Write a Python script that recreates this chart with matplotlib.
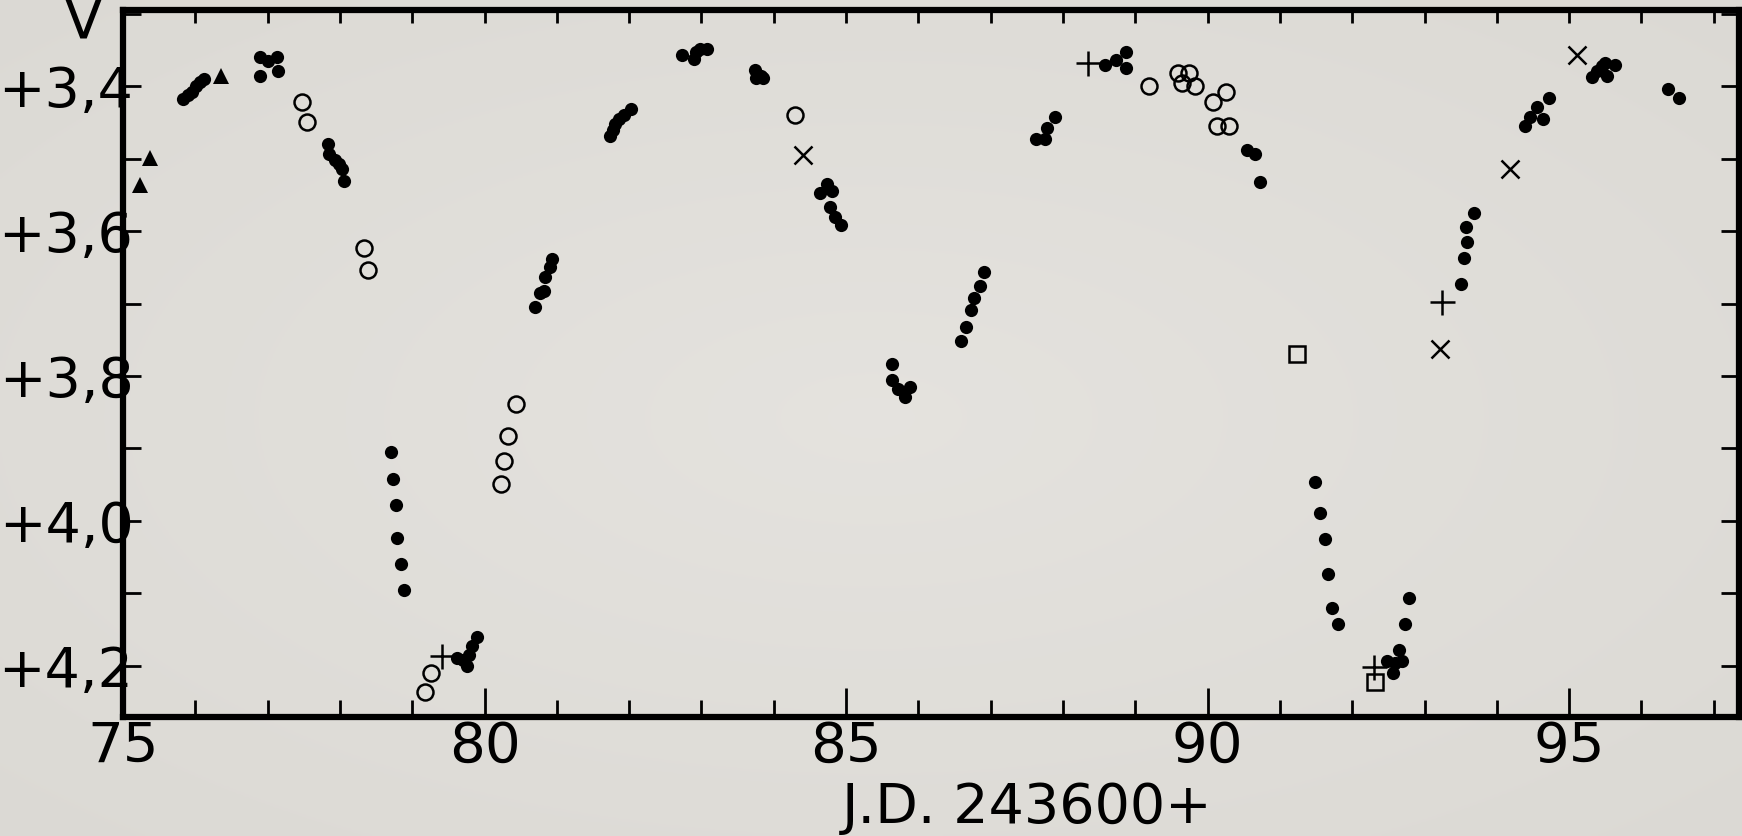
import numpy as np
import matplotlib
matplotlib.use("Agg")
import matplotlib.pyplot as plt
from matplotlib.ticker import MultipleLocator

# ---- data (J.D. - 2436000, V magnitude) ----
# filled circles
filled_x = [75.83, 75.90, 75.96, 76.01, 76.06, 76.12,
            76.90, 76.89, 77.01, 77.13, 77.14,
            77.83, 77.85, 77.93, 77.99, 78.03, 78.05,
            78.70, 78.73, 78.77, 78.79, 78.84, 78.88,
            79.62, 79.70, 79.76, 79.79, 79.83, 79.89,
            80.70, 80.77, 80.82, 80.84, 80.90, 80.94,
            81.73, 81.77, 81.81, 81.86, 81.93, 82.02,
            82.73, 82.90, 82.92, 82.98, 83.08,
            83.74, 83.75, 83.82, 83.85,
            84.64, 84.73, 84.81, 84.78, 84.85, 84.93,
            85.64, 85.63, 85.72, 85.81, 85.88,
            86.59, 86.66, 86.73, 86.77, 86.85, 86.91,
            87.63, 87.75, 87.78, 87.89,
            88.58, 88.74, 88.87, 88.87,
            90.55, 90.66, 90.73,
            91.49, 91.56, 91.62, 91.66, 91.72, 91.80,
            92.48, 92.57, 92.59, 92.65, 92.69, 92.73, 92.78,
            93.50, 93.54, 93.58, 93.59, 93.68,
            94.39, 94.46, 94.55, 94.64, 94.72,
            95.32, 95.39, 95.45, 95.50, 95.52, 95.64,
            96.37, 96.52]
filled_y = [3.417, 3.412, 3.407, 3.399, 3.394, 3.390,
            3.359, 3.386, 3.365, 3.359, 3.379,
            3.479, 3.494, 3.501, 3.507, 3.514, 3.531,
            3.905, 3.942, 3.978, 4.024, 4.059, 4.095,
            4.190, 4.192, 4.200, 4.185, 4.173, 4.161,
            3.704, 3.685, 3.683, 3.663, 3.649, 3.639,
            3.468, 3.460, 3.452, 3.445, 3.440, 3.431,
            3.356, 3.362, 3.352, 3.348, 3.348,
            3.377, 3.388, 3.386, 3.388,
            3.547, 3.535, 3.545, 3.567, 3.580, 3.592,
            3.783, 3.806, 3.818, 3.829, 3.815,
            3.751, 3.732, 3.709, 3.692, 3.676, 3.656,
            3.472, 3.473, 3.458, 3.442,
            3.371, 3.364, 3.352, 3.374,
            3.488, 3.493, 3.532,
            3.946, 3.989, 4.025, 4.073, 4.120, 4.142,
            4.193, 4.210, 4.196, 4.178, 4.194, 4.143, 4.106,
            3.673, 3.637, 3.594, 3.615, 3.575,
            3.455, 3.442, 3.428, 3.445, 3.416,
            3.387, 3.379, 3.372, 3.368, 3.385, 3.370,
            3.404, 3.416]

# open circles
open_x = [77.47, 77.55, 78.34, 78.39, 79.17, 79.26, 80.23, 80.27, 80.32, 80.43,
          84.29, 89.19, 89.59, 89.64, 89.74, 89.82, 90.08, 90.25, 90.13, 90.29]
open_y = [3.422, 3.449, 3.623, 3.653, 4.237, 4.210, 3.949, 3.917, 3.883, 3.838,
          3.440, 3.399, 3.381, 3.395, 3.381, 3.399, 3.422, 3.408, 3.455, 3.455]

# triangles
tri_x = [75.23, 75.37, 76.36]
tri_y = [3.536, 3.499, 3.385]

# plus signs
plus_x = [79.41, 88.34, 93.24, 92.30]
plus_y = [4.187, 3.368, 3.698, 4.202]

# crosses
cross_x = [84.40, 93.22, 94.18, 95.11]
cross_y = [3.495, 3.762, 3.514, 3.356]

# squares
square_x = [91.24, 92.32]
square_y = [3.769, 4.223]

ytick_vals = [3.4, 3.6, 3.8, 4.0, 4.2]
ytick_labels = ['+3,4', '+3,6', '+3,8', '+4,0', '+4,2']
xtick_vals = [75, 80, 85, 90, 95]
xtick_labels = ['75', '80', '85', '90', '95']

fig = plt.figure(figsize=(17.42, 8.36), dpi=100)

# soft radial background
bg = fig.add_axes([0, 0, 1, 1], zorder=-10)
yy, xx = np.mgrid[-1:1:300j, -1:1:600j]
r = np.clip(np.sqrt(xx**2 + yy**2) / 1.414, 0, 1)
c_in = np.array([0.897, 0.889, 0.872])
c_out = np.array([0.860, 0.852, 0.832])
img = c_in[None, None, :] * (1 - r[..., None]) + c_out[None, None, :] * r[..., None]
bg.imshow(img, aspect='auto', extent=[0, 1, 0, 1])
bg.axis('off')

ax = fig.add_axes([0.0706, 0.1423, 0.9277, 0.8461])
ax.patch.set_alpha(0)

k = 'black'
ax.plot(filled_x, filled_y, 'o', color=k, ms=9.5, mew=0, ls='none')
ax.plot(open_x, open_y, 'o', mfc='none', mec=k, ms=11.5, mew=1.8, ls='none')
ax.plot(tri_x, tri_y, '^', color=k, ms=11, mew=0, ls='none')
ax.plot(plus_x, plus_y, '+', color=k, ms=18, mew=1.8, ls='none')
ax.plot(cross_x, cross_y, 'x', color=k, ms=13, mew=1.8, ls='none')
ax.plot(square_x, square_y, 's', mfc='none', mec=k, ms=11, mew=1.8, ls='none')

ax.set_xlim(75, 97.35)
ax.set_ylim(4.271, 3.294)

for s in ax.spines.values():
    s.set_linewidth(4.5)

ax.set_xticks(xtick_vals)
ax.set_xticklabels(xtick_labels, fontsize=40.5)
ax.xaxis.set_minor_locator(MultipleLocator(1))
ax.tick_params(axis='x', which='major', direction='in', length=21, width=2, pad=2, top=False)
ax.tick_params(axis='x', which='minor', direction='in', length=12, width=2, top=False)

ax.set_yticks(ytick_vals)
ax.set_yticklabels(ytick_labels, fontsize=40)
ax.yaxis.set_minor_locator(MultipleLocator(0.1))
ax.tick_params(axis='y', which='both', direction='in', length=13, width=2, pad=-7.5,
               left=True, right=True)

top = ax.secondary_xaxis('top')
top.xaxis.set_major_locator(MultipleLocator(1))
top.tick_params(direction='in', length=9, width=2, labeltop=False)
top.spines['top'].set_visible(False)

fig.text(83.5 / 1742, 1 - 38 / 836, 'V', fontsize=41, ha='center', va='baseline')
fig.text(1027 / 1742, 1 - 808 / 836, 'J.D. 243600+', fontsize=40, ha='center', va='center')

fig.savefig('out.png', dpi=100)
